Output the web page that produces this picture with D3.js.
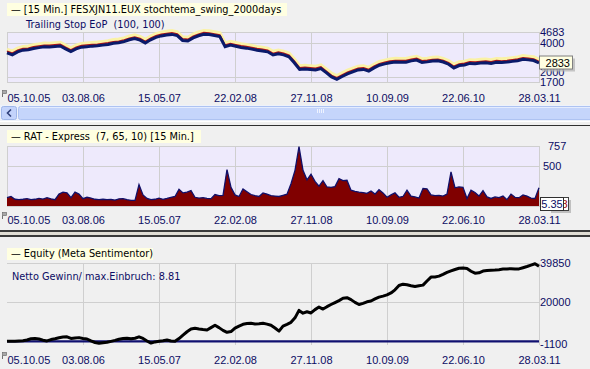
<!DOCTYPE html>
<html><head><meta charset="utf-8">
<script src="https://cdn.jsdelivr.net/npm/d3@7"></script>
<style>
html,body{margin:0;padding:0;background:#f0f0f0;overflow:hidden;}
svg{display:block;font-family:"Liberation Sans",Arial,sans-serif;}
.lbl{font-family:"DejaVu Sans",sans-serif;font-size:9.75px;white-space:pre;}
</style></head><body>
<svg id="c" width="590" height="369"></svg>
<script>
// ---------- DATA ----------
const dateLabels = ["05.10.05","03.08.06","15.05.07","22.02.08","27.11.08","10.09.09","22.06.10","28.03.11"];
const priceTicks = [4683, 4000, 2000, 1700];
const ratTicks = [757, 500];
const equityTicks = [39850, 20000, -1100];
const priceLast = "2833";
const ratLast = "5.35";
const equityRatio = "8.81";

const price = [3440,3320,3500,3600,3620,3700,3750,3800,3790,3820,3850,3680,3520,3680,3780,3810,3840,3860,3900,3940,
4010,4040,4110,4220,4290,4200,4030,4220,4360,4450,4500,4540,4470,4180,4150,4330,4460,4550,4530,4470,
4410,3810,3900,3830,3760,3720,3660,3600,3550,3500,3310,3390,3320,3200,2850,2450,2480,2450,2420,2500,
2260,2000,1860,2030,2180,2300,2420,2450,2350,2540,2700,2780,2850,2890,2880,2880,2960,3010,2870,2900,
2950,2960,2890,2760,2540,2680,2720,2810,2790,2830,2850,2810,2880,2860,2890,2930,2970,3050,3020,2980,2833];

const rat = [105,120,85,80,85,92,80,85,95,88,105,90,80,150,175,165,105,175,150,92,
110,100,85,80,85,80,82,75,90,92,80,72,70,270,140,95,80,85,100,85,
95,110,120,210,165,175,195,110,100,105,95,92,145,130,135,460,235,140,120,215,
180,145,130,120,165,150,130,125,120,135,150,280,450,750,450,330,400,310,250,320,
240,235,245,345,320,325,200,185,175,170,160,190,150,205,165,110,140,165,110,120,
200,125,115,100,220,215,140,130,135,125,150,430,230,240,235,95,200,170,125,195,
115,95,115,105,125,80,150,110,105,140,125,100,95,230];

const equity = [0,100,0,150,300,700,1300,1500,1200,600,200,900,1300,1800,2200,2300,1500,1700,1900,1500,
1200,200,-600,-1000,-700,-500,0,500,1100,1400,1600,1300,1600,2300,1500,200,-900,-300,0,300,
700,200,0,1400,3200,4900,6300,6700,6300,6000,5800,7000,8200,7000,5600,4600,5000,6800,7800,8700,
9100,9200,8900,9000,9200,8800,8200,6800,5200,7800,8700,9700,12000,15800,14400,15100,14500,16200,17500,16500,
17700,18800,19800,20800,22000,22300,21300,19900,18800,19400,20200,20600,21700,22600,23100,23700,24700,26300,28500,29200,
28900,28400,28000,28400,28700,30800,32800,32900,33300,34200,35200,36000,36700,37300,37500,37200,35800,34800,35000,35900,
36200,36300,36400,36600,36900,37000,37100,37000,37000,37600,38200,38900,39600,38300];

// ---------- STYLE ----------
const BG = "#f0f0f0", LAV = "#eeeafc", GRID = "#cfcfcf", NAVY = "#0c0c64", TITLEBG = "#ffffe1";
const L = 7, R = 539;
const svg = d3.select("#c");
svg.append("rect").attr("width",590).attr("height",369).attr("fill",BG);

const xt = d3.scaleLinear().domain([0, dateLabels.length-1]).range([L, R]);

function panel(top, bottom, lavender, vBottom) {
  const g = svg.append("g");
  if (lavender) g.append("rect").attr("x",L+0.5).attr("y",top+0.5).attr("width",R-L).attr("height",bottom-top)
     .attr("fill",LAV).attr("stroke",GRID).attr("stroke-width",1);
  g.selectAll("line.v").data(d3.range(1, dateLabels.length)).join("line")
    .attr("x1", d=>Math.round(xt(d))+0.5).attr("x2", d=>Math.round(xt(d))+0.5)
    .attr("y1", top).attr("y2", vBottom || bottom).attr("stroke",GRID);
  return g;
}
function hgrid(g, y, vals) {
  g.selectAll(null).data(vals).join("line")
    .attr("x1",L).attr("x2",R).attr("y1",d=>Math.round(y(d))+0.5).attr("y2",d=>Math.round(y(d))+0.5)
    .attr("stroke",GRID);
}
function dateAxis(yPos) {
  const ax = svg.append("g").attr("transform",`translate(0,${yPos})`)
    .call(d3.axisBottom(xt).tickValues(d3.range(dateLabels.length)).tickSize(0).tickPadding(0)
      .tickFormat(i=>dateLabels[i]));
  ax.select(".domain").remove();
  ax.selectAll("text").attr("fill",NAVY).attr("font-size","11px").attr("font-family","Liberation Sans, Arial");
  ax.selectAll(".tick").filter((d,i)=>i===0).select("text").attr("text-anchor","start");
  const m = svg.append("g").attr("transform",`translate(2,${yPos-4})`);
  m.append("rect").attr("x",0.5).attr("y",0.5).attr("width",4).attr("height",3).attr("fill","#a8a8a8").attr("stroke","#707070").attr("stroke-width",0.7);
  m.append("line").attr("x1",0.5).attr("x2",0.5).attr("y1",3.5).attr("y2",7).attr("stroke","#707070");
}
function valueAxis(y, vals) {
  const ax = svg.append("g").attr("transform",`translate(${R},0)`)
    .call(d3.axisRight(y).tickValues(vals).tickSize(0).tickPadding(1).tickFormat(d=>String(d)));
  ax.select(".domain").remove();
  ax.selectAll("text").attr("fill",NAVY).attr("font-size","11px").attr("font-family","Liberation Sans, Arial");
  return ax;
}
function titleBox(x, y, w, h, text) {
  svg.append("rect").attr("x",x).attr("y",y).attr("width",w).attr("height",h).attr("fill",TITLEBG);
  svg.append("text").attr("class","lbl").attr("x",x+4).attr("y",y+h-3).attr("fill","#000").text("\u2014 " + text);
}

// ---------- PANEL 1 ----------
const y1 = d3.scaleLinear().domain([1700, 4683]).range([82, 32]);
const x1 = d3.scaleLinear().domain([0, price.length-1]).range([L, R]);
const g1 = panel(32, 82, true);
hgrid(g1, y1, [4000, 2000]);
const l1 = d3.line().x((d,i)=>x1(i)).y(d=>y1(d));
g1.append("path").datum(price).attr("d",l1).attr("fill","none").attr("stroke","#faf2a6").attr("stroke-width",3.5).attr("transform","translate(0,-3.5)");
g1.append("path").datum(price).attr("d",l1).attr("fill","none").attr("stroke","#b01818").attr("stroke-width",1.6).attr("transform","translate(0,-1.6)");
g1.append("path").datum(price).attr("d",l1).attr("fill","none").attr("stroke","#0a1a6a").attr("stroke-width",3);
titleBox(7, 3, 280, 13, "[15 Min.] FESXJN11.EUX stochtema_swing_2000days");
svg.append("text").attr("class","lbl").attr("x",26).attr("y",27.5).attr("fill",NAVY).text("Trailing Stop EoP  (100, 100)");
const ax1 = valueAxis(y1, priceTicks);
ax1.selectAll(".tick").filter(d=>d===2000).select("text").attr("y",-5.5);
{
  const cy = y1(+priceLast);
  svg.append("rect").attr("x",542).attr("y",cy-4.5).attr("width",33).attr("height",13).attr("fill","#b0b0b0").attr("opacity",0.7);
  svg.append("rect").attr("x",539.5).attr("y",cy-7).attr("width",33).attr("height",13).attr("fill",TITLEBG).attr("stroke","#808080");
  svg.append("text").attr("x",570).attr("y",cy+3.5).attr("text-anchor","end").attr("font-size","11px").attr("fill","#000").text(priceLast);
}
dateAxis(94);

// scrollbar
svg.append("rect").attr("x",0).attr("y",105).attr("width",590).attr("height",16).attr("fill","#eef2fb");
svg.append("rect").attr("x",18.5).attr("y",106.5).attr("width",580).attr("height",13).attr("rx",2).attr("fill","#c5d5fb").attr("stroke","#aec3f2");
svg.append("line").attr("x1",20).attr("x2",590).attr("y1",107.5).attr("y2",107.5).attr("stroke","#e4ecfe");
svg.append("rect").attr("x",1.5).attr("y",106.5).attr("width",15).attr("height",13).attr("rx",2).attr("fill","#c3d3fb").attr("stroke","#9fb6e8");
svg.append("path").attr("d","M11,109.5 L7.5,113 L11,116.5").attr("fill","none").attr("stroke","#30407a").attr("stroke-width",1.6);
[317,319,321,323].forEach(x=>svg.append("line").attr("x1",x+0.5).attr("x2",x+0.5).attr("y1",109).attr("y2",113).attr("stroke","#eef3ff"));
svg.append("line").attr("x1",0).attr("x2",590).attr("y1",121.5).attr("y2",121.5).attr("stroke","#ffffff");
svg.append("line").attr("x1",0).attr("x2",590).attr("y1",125.5).attr("y2",125.5).attr("stroke","#303030");

// ---------- PANEL 2 ----------
const y2 = d3.scaleLinear().domain([0, 757]).range([206, 146]);
const x2 = d3.scaleLinear().domain([0, rat.length-1]).range([L, R]);
const g2 = panel(146, 206, true);
hgrid(g2, y2, [500]);
g2.append("path").datum(rat).attr("fill","#800000")
  .attr("d", d3.area().x((d,i)=>x2(i)).y0(y2(0)).y1(d=>y2(d)));
g2.append("path").datum(rat).attr("fill","none").attr("stroke","#10106a").attr("stroke-width",1.3)
  .attr("d", d3.line().x((d,i)=>x2(i)).y(d=>y2(d)));
titleBox(7, 130, 194, 13, "RAT - Express  (7, 65, 10) [15 Min.]");
const ax2 = valueAxis(y2, ratTicks);
ax2.selectAll(".tick").filter(d=>d===757).select("text").attr("x",9);
ax2.selectAll(".tick").filter(d=>d===500).select("text").attr("x",4);
{
  const cy = 204;
  svg.append("rect").attr("x",551).attr("y",cy-4).attr("width",20).attr("height",13).attr("fill","#a0a0a0").attr("opacity",0.6);
  svg.append("rect").attr("x",548.5).attr("y",cy-6.5).attr("width",20).attr("height",13).attr("fill","#ffffff").attr("stroke","#404040");
  svg.append("text").attr("x",567.5).attr("y",cy+4).attr("text-anchor","end").attr("font-size","11px").attr("fill","#a00000").text("8");
  svg.append("rect").attr("x",540.5).attr("y",cy-6.5).attr("width",23).attr("height",13).attr("fill","#ffffff").attr("stroke","#303030");
  svg.append("text").attr("x",552).attr("y",cy+4).attr("text-anchor","middle").attr("font-size","11px").attr("fill",NAVY).text(ratLast);
}
dateAxis(216);

// separator
svg.append("rect").attr("x",0).attr("y",230).attr("width",590).attr("height",2).attr("fill","#3a3a3a");
svg.append("rect").attr("x",0).attr("y",232).attr("width",590).attr("height",3).attr("fill","#e0ddd4");
svg.append("rect").attr("x",0).attr("y",235).attr("width",590).attr("height",2).attr("fill","#3a3a3a");

// ---------- PANEL 3 ----------
const y3 = d3.scaleLinear().domain([-1100, 39850]).range([343.5, 263.3]);
const x3 = d3.scaleLinear().domain([0, equity.length-1]).range([L, R]);
const g3 = panel(263, 345, false, 345);
hgrid(g3, y3, [39850, 20000]);
g3.append("line").attr("x1",R+0.5).attr("x2",R+0.5).attr("y1",263).attr("y2",345).attr("stroke",GRID);
g3.append("line").attr("x1",L).attr("x2",R).attr("y1",y3(0)).attr("y2",y3(0)).attr("stroke","#101070").attr("stroke-width",2.2);
g3.append("path").datum(equity).attr("fill","none").attr("stroke","#000").attr("stroke-width",3)
  .attr("stroke-linejoin","round").attr("d", d3.line().x((d,i)=>x3(i)).y(d=>y3(d)));
titleBox(7, 248, 146, 12, "Equity (Meta Sentimentor)");
svg.append("text").attr("class","lbl").attr("x",12).attr("y",279.5).attr("fill",NAVY).text("Netto Gewinn/ max.Einbruch: " + equityRatio);
valueAxis(y3, equityTicks);
dateAxis(356);
</script>
</body></html>
